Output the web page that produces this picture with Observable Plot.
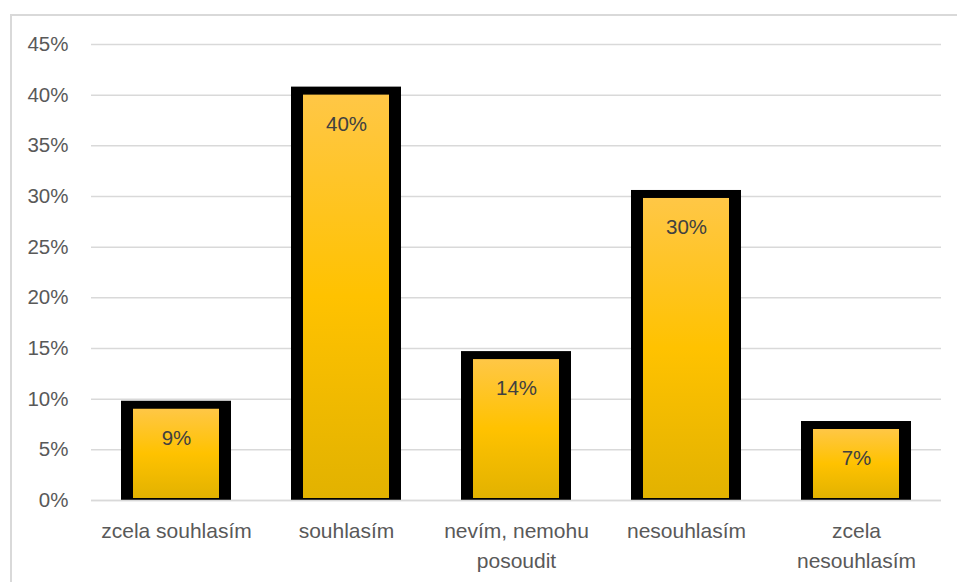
<!DOCTYPE html>
<html>
<head>
<meta charset="utf-8">
<script src="https://cdn.jsdelivr.net/npm/d3@7"></script>
<script src="https://cdn.jsdelivr.net/npm/@observablehq/plot@0.6"></script>
<style>
  html, body { margin: 0; padding: 0; background: #fff; }
  #wrap { position: relative; width: 957px; height: 582px; overflow: hidden; }
  #border { position: absolute; left: 10px; top: 14px; width: 2000px; height: 2000px;
            border-left: 2px solid #d9d9d9; border-top: 2px solid #d9d9d9; box-sizing: border-box; }
  #chart { position: absolute; left: 0; top: 0; }
</style>
</head>
<body>
<div id="wrap"><div id="border"></div><div id="chart"></div></div>
<script>
const categories = ["zcela souhlasím", "souhlasím", "nevím, nemohu\nposoudit", "nesouhlasím", "zcela\nnesouhlasím"];
const values = [9.4, 40.4, 14.3, 30.2, 7.4];
const valueLabels = ["9%", "40%", "14%", "30%", "7%"];
const yTicks = [0, 5, 10, 15, 20, 25, 30, 35, 40, 45];

const data = categories.map((c, i) => ({cat: c, v: values[i], label: valueLabels[i]}));
const font = "'Liberation Sans', Arial, sans-serif";

const plot = Plot.plot({
  width: 957,
  height: 582,
  marginTop: 44,
  marginBottom: 82,
  marginLeft: 91,
  marginRight: 16,
  style: {fontFamily: font, fontSize: "20.5px", color: "#595959", background: "transparent"},
  x: {domain: categories, paddingInner: 0.353, paddingOuter: 0.1765, label: null},
  y: {domain: [0, 45], label: null},
  marks: [
    Plot.gridY(yTicks, {stroke: "#d9d9d9", strokeOpacity: 1, strokeWidth: 1.5}),
    Plot.axisY({ticks: yTicks, tickFormat: d => d + "%", tickSize: 0, tickPadding: 23, fontSize: 20.5, fill: "#595959"}),
    Plot.axisX({tickSize: 0, tickPadding: 16, fontSize: 21, fill: "#595959", lineHeight: 1.43}),
    Plot.barY(data, {x: "cat", y: "v", fill: "#000", insetTop: -4, insetBottom: -1}),
    Plot.barY(data, {x: "cat", y: "v", fill: "url(#goldgrad)", insetTop: 4, insetLeft: 12, insetRight: 12, insetBottom: 2}),
    Plot.ruleY([0], {stroke: "#d9d9d9", strokeWidth: 1.5}),
    Plot.text(data, {x: "cat", y: "v", text: "label", dy: 33, fill: "#404040", fontSize: 20.5, lineAnchor: "middle"})
  ]
});

const ns = "http://www.w3.org/2000/svg";
const defs = document.createElementNS(ns, "defs");
defs.innerHTML = `<linearGradient id="goldgrad" x1="0" y1="0" x2="0" y2="1">
  <stop offset="0" stop-color="#FFC746"/>
  <stop offset="0.5" stop-color="#FFC200"/>
  <stop offset="1" stop-color="#E2B200"/>
</linearGradient>`;
plot.insertBefore(defs, plot.firstChild);
document.getElementById("chart").appendChild(plot);
</script>
</body>
</html>
